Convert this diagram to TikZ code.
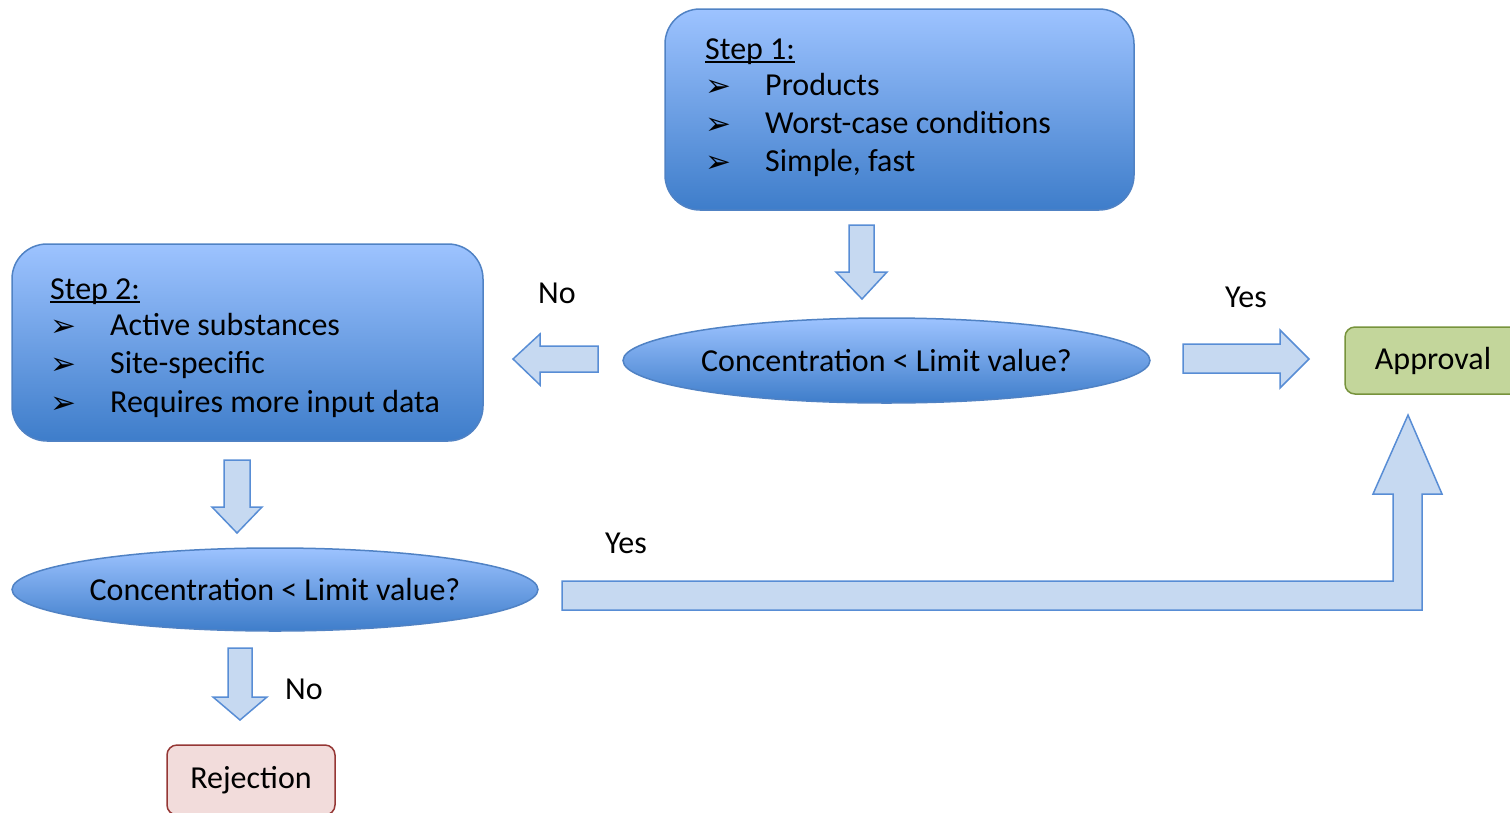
\documentclass[tikz,border=0pt]{standalone}
\usepackage{fontspec}
\setmainfont{Carlito}
\newfontfamily\dingfont{DejaVu Sans}
\usetikzlibrary{shapes.geometric}
\definecolor{gtop}{RGB}{157,195,255}
\definecolor{gbot}{RGB}{62,125,202}
\definecolor{bord}{RGB}{80,130,196}
\definecolor{afill}{RGB}{198,217,241}
\definecolor{aline}{RGB}{88,141,213}
\definecolor{gfill}{RGB}{195,214,155}
\definecolor{gline}{RGB}{119,147,60}
\definecolor{rfill}{RGB}{242,220,219}
\definecolor{rline}{RGB}{149,55,53}
\newcommand{\myul}[1]{\setbox0\hbox{#1}\rlap{\rule[-4pt]{\wd0}{1.8pt}}\box0}
\newcommand{\mybul}{{\dingfont\fontsize{31}{31}\selectfont ➢}}
\tikzset{
  stepbox/.style={draw=bord, line width=1.5pt, rounded corners=35pt, top color=gtop, bottom color=gbot, inner sep=0pt},
  decide/.style={ellipse, draw=bord, line width=1.5pt, top color=gtop, bottom color=gbot, inner sep=0pt, font=\fontsize{32}{38}\selectfont},
  txt/.style={anchor=base west, inner sep=0pt, font=\fontsize{32}{38}\selectfont},
  bul/.style={anchor=base west, inner sep=0pt},
  lbl/.style={inner sep=0pt, font=\fontsize{32}{38}\selectfont},
  blockarrow/.style={draw=aline, fill=afill, line width=1.5pt, line join=miter},
  okbox/.style={draw=gline, fill=gfill, line width=1.5pt, rounded corners=10pt, inner sep=0pt, font=\fontsize{32}{38}\selectfont},
  nobox/.style={draw=rline, fill=rfill, line width=1.5pt, rounded corners=10pt, inner sep=0pt, font=\fontsize{32}{38}\selectfont},
}
\begin{document}
\begin{tikzpicture}[x=1pt, y=-1pt]
\useasboundingbox (0,0) rectangle (1510,812);
% Step 1
\node[stepbox, minimum width=469pt, minimum height=201pt] (s1) at (899.5,109.5) {};
\node[txt] (s1h) at (705,59) {\myul{Step 1:}};
\node[bul] (s1b1) at (705,96) {\mybul};
\node[txt] (s1a) at (765,95) {Products};
\node[bul] (s1b2) at (705,134) {\mybul};
\node[txt] (s1c) at (765,133) {Worst-case conditions};
\node[bul] (s1b3) at (705,172) {\mybul};
\node[txt] (s1d) at (765,171) {Simple, fast};
% Step 2
\node[stepbox, minimum width=471pt, minimum height=197pt] (s2) at (247.5,342.5) {};
\node[txt] (s2h) at (50,299) {\myul{Step 2:}};
\node[bul] (s2b1) at (50,336) {\mybul};
\node[txt] (s2a) at (110,335) {Active substances};
\node[bul] (s2b2) at (50,374) {\mybul};
\node[txt] (s2c) at (110,373) {Site-specific};
\node[bul] (s2b3) at (50,413) {\mybul};
\node[txt] (s2d) at (110,412) {Requires more input data};
% decisions
\node[decide, minimum width=527pt, minimum height=85pt] (d1) at (886.5,360.5) {Concentration < Limit value?};
\node[decide, minimum width=526pt, minimum height=83pt] (d2) at (275,589.5) {Concentration < Limit value?};
% outcomes
\node[okbox, minimum width=176pt, minimum height=67pt] (ok) at (1433,360.5) {Approval};
\node[nobox, minimum width=168pt, minimum height=70pt] (rej) at (251,780) {Rejection};
% labels
\node[lbl] (l1) at (557,293) {No};
\node[lbl] (l2) at (1246,297) {Yes};
\node[lbl] (l3) at (626,543) {Yes};
\node[lbl] (l4) at (304,689) {No};
% block arrows
\draw[blockarrow] (849,225) -- (874,225) -- (874,272) -- (887,272) -- (862,299) -- (836,272) -- (849,272) -- cycle;
\draw[blockarrow] (598,346) -- (598,372) -- (540,372) -- (540,385) -- (513,359) -- (540,334) -- (540,346) -- cycle;
\draw[blockarrow] (1183,344) -- (1280,344) -- (1280,330) -- (1309,359) -- (1280,388) -- (1280,373) -- (1183,373) -- cycle;
\draw[blockarrow] (224,460) -- (250,460) -- (250,507) -- (262,507) -- (237,533) -- (212,507) -- (224,507) -- cycle;
\draw[blockarrow] (228,648) -- (252,648) -- (252,697) -- (267,697) -- (240,720) -- (213,697) -- (228,697) -- cycle;
\draw[blockarrow] (562,581) -- (1393,581) -- (1393,494) -- (1373,494) -- (1408,415) -- (1442,494) -- (1422,494) -- (1422,610) -- (562,610) -- cycle;
\end{tikzpicture}
\end{document}
